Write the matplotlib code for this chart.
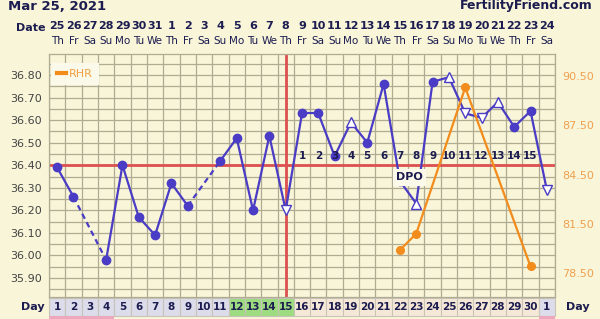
import matplotlib.pyplot as plt
import numpy as np
from matplotlib.patches import Rectangle
from matplotlib.lines import Line2D

# chart data
chart_date = 'Mar 25, 2021'
dates = ['25', '26', '27', '28', '29', '30', '31', '1', '2', '3', '4', '5', '6', '7', '8',
         '9', '10', '11', '12', '13', '14', '15', '16', '17', '18', '19', '20', '21', '22', '23', '24']
weekdays = ['Th', 'Fr', 'Sa', 'Su', 'Mo', 'Tu', 'We'] * 4 + ['Th', 'Fr', 'Sa']
cycle_days = [str(d) for d in range(1, 31)] + ['1']

# BBT in C, None = not recorded
temps = [36.39, 36.26, None, 35.98, 36.40, 36.17, 36.09, 36.32, 36.22, None,
         36.42, 36.52, 36.20, 36.53, 36.20, 36.63, 36.63, 36.44, 36.59, 36.50,
         36.76, 36.33, 36.23, 36.77, 36.79, 36.63, 36.61, 36.68, 36.57, 36.64, 36.29]
# resting heart rate
rhr = [None] * 21 + [79.9, 80.9, None, None, 89.8, None, None, None, 78.9, None]

open_up_days = [19, 23, 25, 28]
open_down_days = [15, 26, 27, 31]
coverline = 36.40
ovulation_day = 15
dpo = [str(d) for d in range(1, 16)]
dpo_days = list(range(16, 31))
fertile_days = [12, 13, 14, 15]
period_days = [1, 2, 3, 4, 31]

# colours
bg = '#f8f5d8'
navy = '#1c1c50'
blue = '#4a3cc4'
orange = '#f28c1c'
red = '#dc5050'

days = np.arange(1, len(temps) + 1)
t = np.array([np.nan if v is None else v for v in temps])
r = np.array([np.nan if v is None else v for v in rhr])

fig = plt.figure(figsize=(6, 3.19), dpi=100)
fig.patch.set_facecolor(bg)
ax = fig.add_axes([49 / 600, 1 - 297 / 319, 506 / 600, 243 / 319])
ax.set_facecolor(bg)
ax.set_xlim(0.5, 31.5)
ax.set_ylim(35.816, 36.893)

# grid
ax.set_xticks(np.arange(0.5, 32, 1), minor=True)
ax.set_xticks([])
ax.set_yticks(np.arange(35.90, 36.85, 0.1))
ax.set_yticklabels(['%.2f' % v for v in np.arange(35.90, 36.85, 0.1)])
ax.set_yticks(np.arange(35.85, 36.9, 0.1), minor=True)
ax.grid(which='both', color='#b0ac94', linewidth=0.9)
ax.tick_params(which='both', length=0, labelsize=8, labelcolor='#444444', pad=5)
for s in ax.spines.values():
    s.set_color('#b0ac94')
    s.set_linewidth(0.9)
ax.set_axisbelow(True)

# coverline and ovulation line
ax.axhline(coverline, color=red, lw=2, zorder=2)
ax.axvline(ovulation_day, color=red, lw=2, zorder=2)

# temperatures: solid between consecutive days, dashed across gaps
valid = days[~np.isnan(t)]
for a, b in zip(valid[:-1], valid[1:]):
    ls = '-' if b - a == 1 else (0, (2.5, 1.8))
    ax.plot([a, b], [t[a - 1], t[b - 1]], color=blue, lw=1.6, ls=ls, zorder=3)
filled = [d for d in valid if d not in open_up_days + open_down_days]
ax.plot(filled, t[np.array(filled) - 1], 'o', color=blue, ms=6, zorder=4)
ax.plot(open_up_days, t[np.array(open_up_days) - 1], '^', mfc='white', mec=blue,
        mew=1, ms=7.5, zorder=4)
ax.plot(open_down_days, t[np.array(open_down_days) - 1], 'v', mfc='white', mec=blue,
        mew=1, ms=7.5, zorder=4)

# DPO numbers
for d, s in zip(dpo_days, dpo):
    ax.text(d, 36.443, s, ha='center', va='center', fontsize=7.5, fontweight='bold',
            color=navy, zorder=5)
ax.text(22.6, 36.347, 'DPO', ha='center', va='center', fontsize=8, fontweight='bold',
        color=navy, zorder=6,
        bbox=dict(boxstyle='square,pad=0.3', fc='#fbf9ea', ec='none'))

# RHR on right axis
ax2 = ax.twinx()
ax2.set_ylim(77.04, 91.84)
rv = ~np.isnan(r)
ax2.plot(days[rv], r[rv], '-o', color=orange, lw=1.6, ms=5.5, zorder=3)
ax2.set_yticks([78.5, 81.5, 84.5, 87.5, 90.5])
ax2.set_yticklabels(['%.2f' % v for v in [78.5, 81.5, 84.5, 87.5, 90.5]])
ax2.tick_params(length=0, labelsize=8, labelcolor='#f0a050', pad=5)
for s in ax2.spines.values():
    s.set_visible(False)

# legend box
leg = ax.legend(handles=[Line2D([], [], color=orange, lw=3)], labels=['RHR'],
                loc='upper left', bbox_to_anchor=(0.004, 0.965), fontsize=8,
                handlelength=0.8, handletextpad=0.3, borderpad=0.55,
                borderaxespad=0, frameon=True, fancybox=False, facecolor='#fbf9ea',
                edgecolor='none', framealpha=1)
for txt in leg.get_texts():
    txt.set_color('#f0a040')

# header rows
tr = ax.get_xaxis_transform()
for d, ds, wd in zip(days, dates, weekdays):
    ax.text(d, 1.115, ds, transform=tr, ha='center', va='center', fontsize=8,
            fontweight='bold', color=navy, clip_on=False)
    ax.text(d, 1.052, wd, transform=tr, ha='center', va='center', fontsize=7.5,
            color=navy, clip_on=False)
ax.text(-0.6, 1.105, 'Date', transform=tr, ha='center', va='center', fontsize=8,
        fontweight='bold', color=navy, clip_on=False)
fig.text(8 / 600, 1 - 10 / 319, chart_date, ha='left', va='baseline', fontsize=9.5,
         fontweight='bold', color=navy)
fig.text(593 / 600, 1 - 9 / 319, 'FertilityFriend.com', ha='right', va='baseline',
         fontsize=9, fontweight='bold', color=navy)

# cycle day row
for d, cd in zip(days, cycle_days):
    if d in fertile_days:
        fc = '#9ddc80'
    elif d <= 15 or d == 31:
        fc = '#dcdcea'
    else:
        fc = '#f6e8d6'
    ax.add_patch(Rectangle((d - 0.5, -0.078), 1, 0.073, transform=tr, fc=fc,
                           ec='#c8c4b8', lw=0.8, clip_on=False))
    if d in period_days:
        ax.add_patch(Rectangle((d - 0.5, -0.12), 1, 0.042, transform=tr, fc='#eea8be',
                               ec='none', clip_on=False))
    ax.text(d, -0.041, cd, transform=tr, ha='center', va='center', fontsize=7.5,
            fontweight='bold', color=navy, clip_on=False)
ax.text(-0.5, -0.041, 'Day', transform=tr, ha='center', va='center', fontsize=8,
        fontweight='bold', color=navy, clip_on=False)
ax.text(32.9, -0.041, 'Day', transform=tr, ha='center', va='center', fontsize=8,
        fontweight='bold', color=navy, clip_on=False)

plt.savefig('out.png', dpi=100, facecolor=bg)
